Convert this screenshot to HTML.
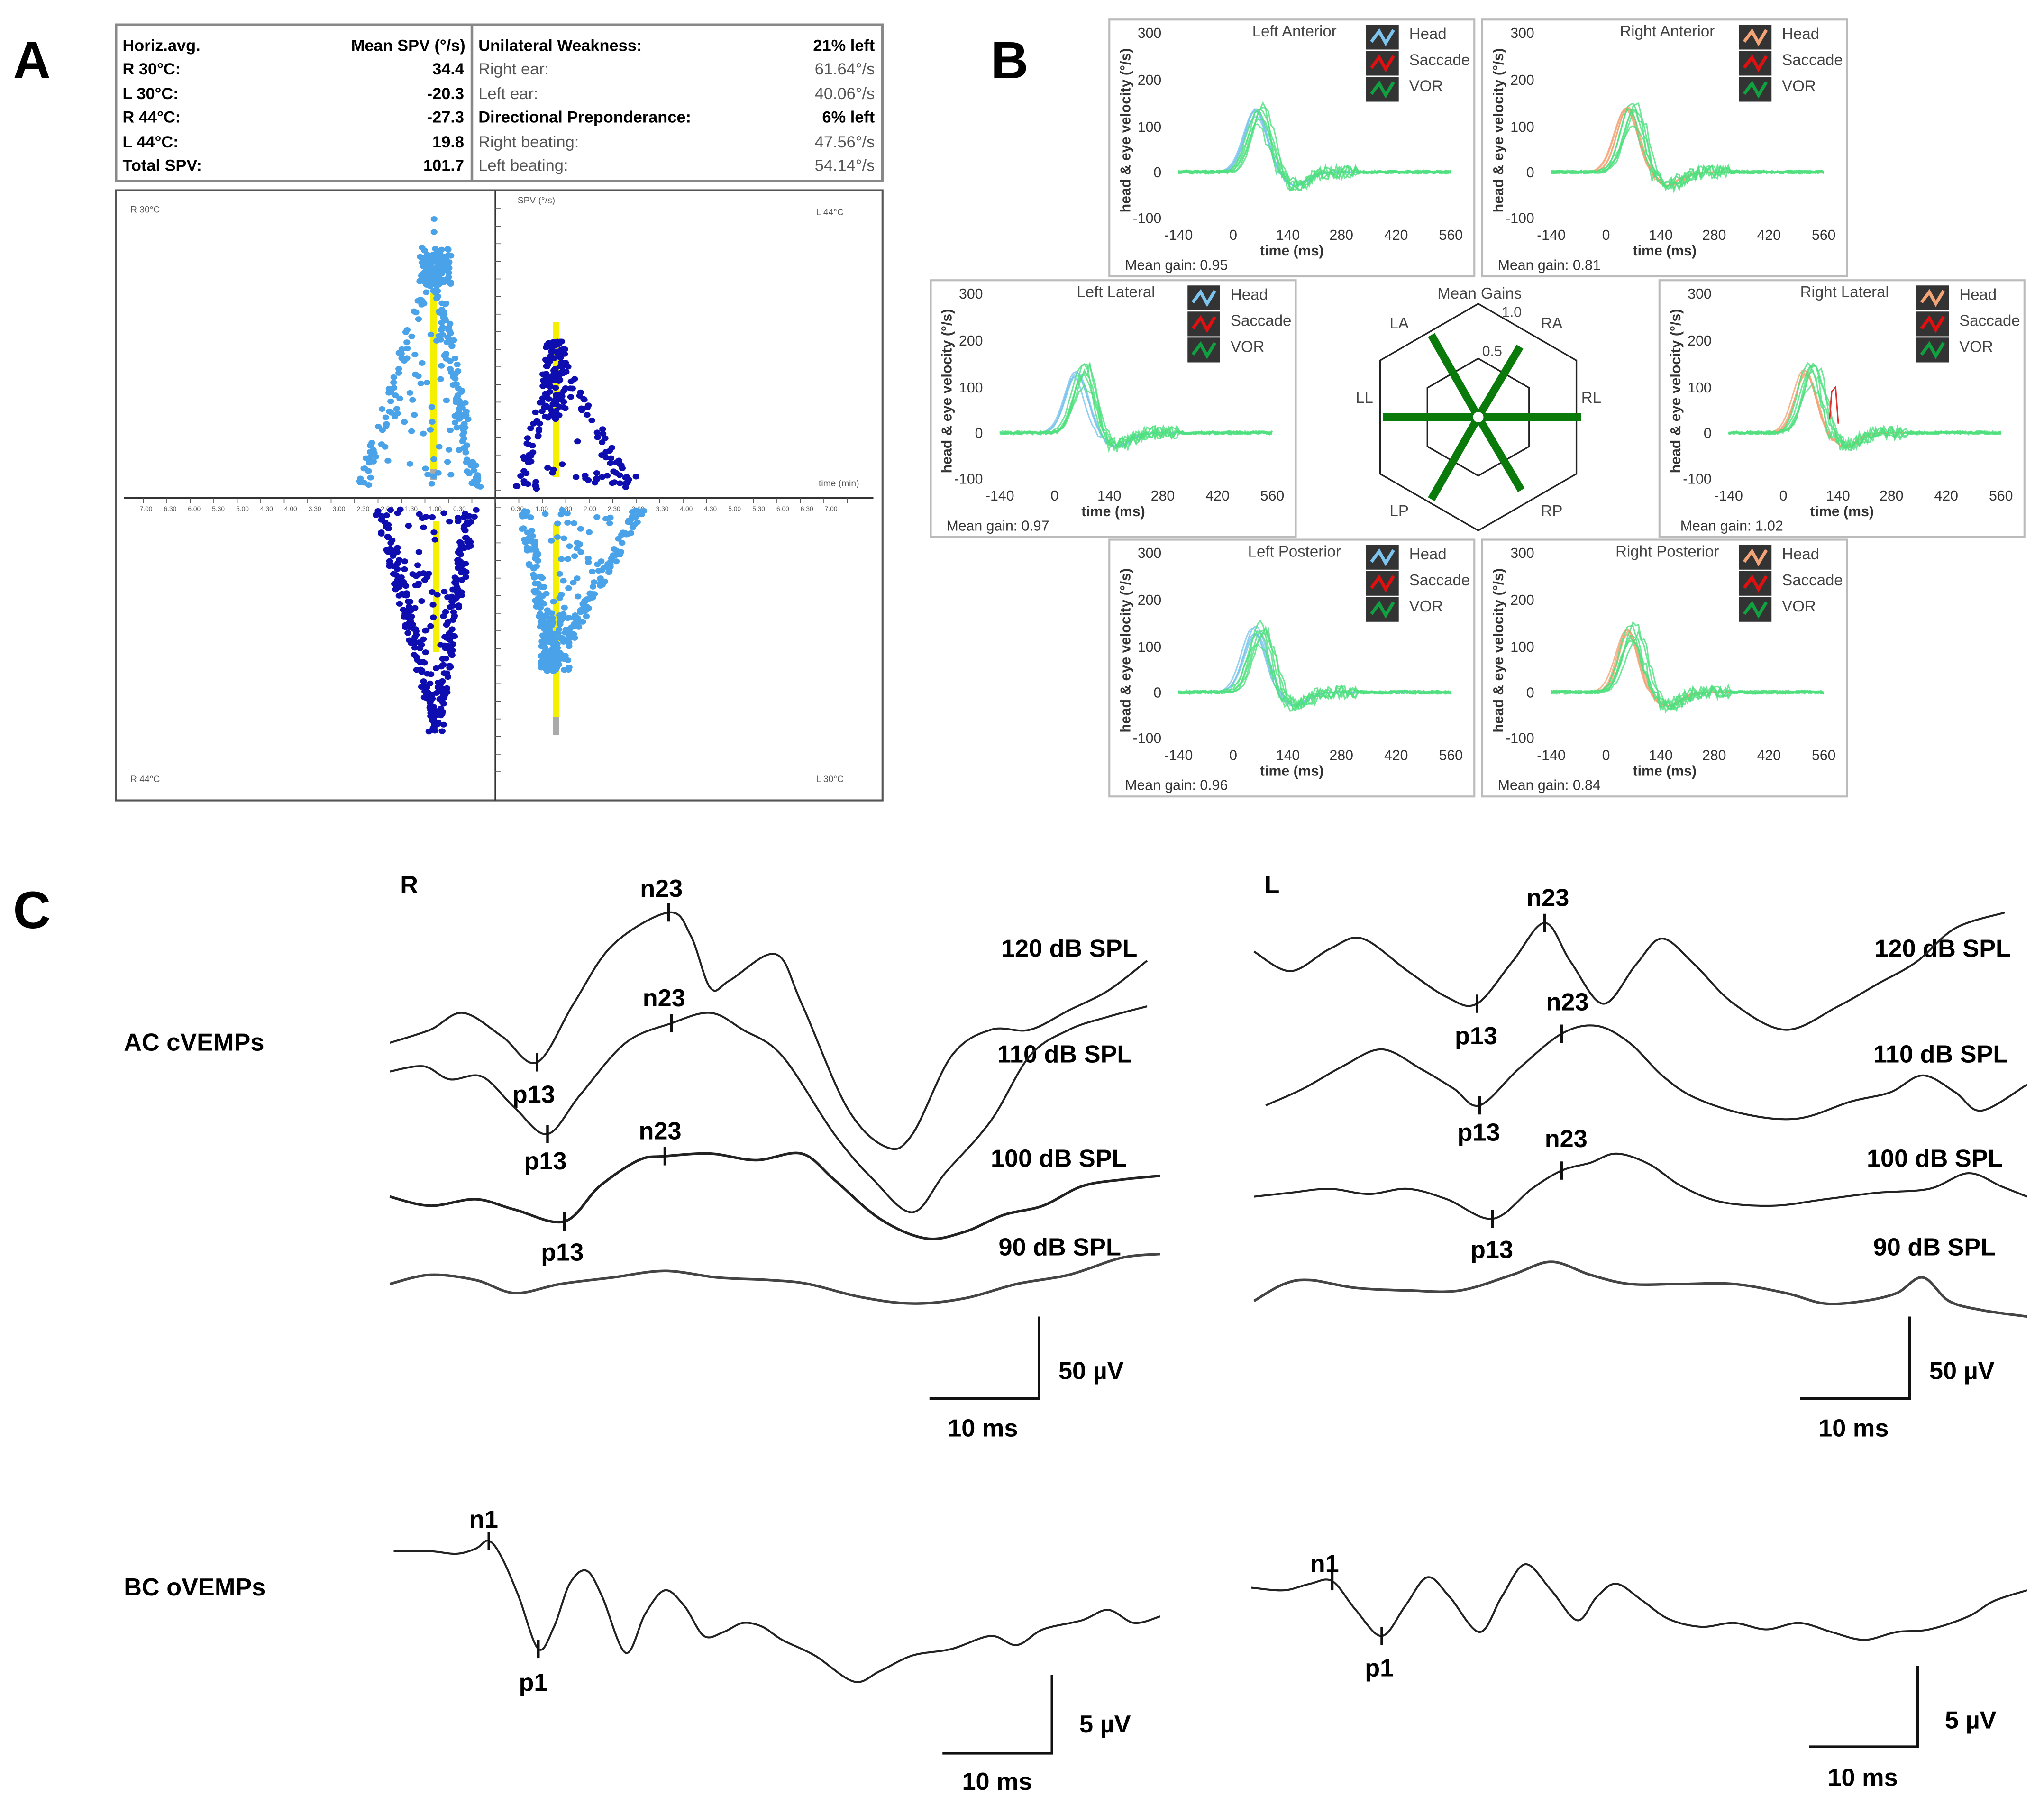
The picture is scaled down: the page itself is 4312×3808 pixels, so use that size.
<!DOCTYPE html>
<html><head><meta charset="utf-8"><style>
html,body{margin:0;padding:0;background:#fff}
svg{display:block}
text{font-family:"Liberation Sans",sans-serif}
.b{font-weight:bold}
.ax{font-size:11px;fill:#333}
.sm{font-size:12px;fill:#444}
.big{font-size:40px;font-weight:bold}
.cl{font-size:19px;font-weight:bold}
.tb{font-size:12.5px}
</style></head><body>
<svg id="s" width="4312" height="3808" viewBox="0 0 1568 1384.7" preserveAspectRatio="none" xmlns="http://www.w3.org/2000/svg">
<rect width="1568" height="1385" fill="#fff"/>
<text x="10" y="60" class="big">A</text>
<text x="760" y="60" class="big">B</text>
<text x="10" y="712" class="big">C</text>

<rect x="89" y="19" width="588" height="120" fill="#fff" stroke="#888" stroke-width="2"/>
<line x1="362" y1="19" x2="362" y2="139" stroke="#888" stroke-width="2"/>
<g class="tb">
<text x="94" y="39" class="b">Horiz.avg.</text><text x="357" y="39" text-anchor="end" class="b">Mean SPV (°/s)</text>
<text x="94" y="57" class="b">R 30°C:</text><text x="356" y="57" text-anchor="end" class="b">34.4</text>
<text x="94" y="76" class="b">L 30°C:</text><text x="356" y="76" text-anchor="end" class="b">-20.3</text>
<text x="94" y="94" class="b">R 44°C:</text><text x="356" y="94" text-anchor="end" class="b">-27.3</text>
<text x="94" y="113" class="b">L 44°C:</text><text x="356" y="113" text-anchor="end" class="b">19.8</text>
<text x="94" y="131" class="b">Total SPV:</text><text x="356" y="131" text-anchor="end" class="b">101.7</text>
<text x="367" y="39" class="b">Unilateral Weakness:</text><text x="671" y="39" text-anchor="end" class="b">21% left</text>
<text x="367" y="57" fill="#555">Right ear:</text><text x="671" y="57" text-anchor="end" fill="#555">61.64°/s</text>
<text x="367" y="76" fill="#555">Left ear:</text><text x="671" y="76" text-anchor="end" fill="#555">40.06°/s</text>
<text x="367" y="94" class="b">Directional Preponderance:</text><text x="671" y="94" text-anchor="end" class="b">6% left</text>
<text x="367" y="113" fill="#555">Right beating:</text><text x="671" y="113" text-anchor="end" fill="#555">47.56°/s</text>
<text x="367" y="131" fill="#555">Left beating:</text><text x="671" y="131" text-anchor="end" fill="#555">54.14°/s</text>
</g>
<rect x="89" y="146" width="588" height="468" fill="#fff" stroke="#555" stroke-width="1.5"/>
<line x1="380" y1="146" x2="380" y2="614" stroke="#333" stroke-width="1.2"/>
<line x1="95" y1="382" x2="670" y2="382" stroke="#333" stroke-width="1.2"/>
<g font-size="7" fill="#555">
<text x="100" y="163">R 30°C</text><text x="626" y="165">L 44°C</text>
<text x="100" y="600">R 44°C</text><text x="626" y="600">L 30°C</text>
<text x="397" y="156">SPV (°/s)</text><text x="628" y="373">time (min)</text>
</g>
<g id="ticks"></g>
<g id="scat"></g>

<g id="boxes"></g>
<g transform="translate(851,15)"><text x="142" y="13" text-anchor="middle" class="sm">Left Anterior</text><text x="40" y="14" text-anchor="end" class="ax">300</text><text x="40" y="50" text-anchor="end" class="ax">200</text><text x="40" y="86" text-anchor="end" class="ax">100</text><text x="40" y="121" text-anchor="end" class="ax">0</text><text x="40" y="156" text-anchor="end" class="ax">-100</text><g class="ax" text-anchor="middle"><text x="53" y="169">-140</text><text x="95" y="169">0</text><text x="137" y="169">140</text><text x="178" y="169">280</text><text x="220" y="169">420</text><text x="262" y="169">560</text></g><text x="140" y="181" text-anchor="middle" class="ax b">time (ms)</text><text x="12" y="192" class="ax">Mean gain: 0.95</text><text transform="translate(16,85) rotate(-90)" text-anchor="middle" class="ax b" font-size="10.5">head &amp; eye velocity (°/s)</text><text x="230" y="15" class="sm">Head</text><text x="230" y="35" class="sm">Saccade</text><text x="230" y="55" class="sm">VOR</text></g>
<g transform="translate(1137,15)"><text x="142" y="13" text-anchor="middle" class="sm">Right Anterior</text><text x="40" y="14" text-anchor="end" class="ax">300</text><text x="40" y="50" text-anchor="end" class="ax">200</text><text x="40" y="86" text-anchor="end" class="ax">100</text><text x="40" y="121" text-anchor="end" class="ax">0</text><text x="40" y="156" text-anchor="end" class="ax">-100</text><g class="ax" text-anchor="middle"><text x="53" y="169">-140</text><text x="95" y="169">0</text><text x="137" y="169">140</text><text x="178" y="169">280</text><text x="220" y="169">420</text><text x="262" y="169">560</text></g><text x="140" y="181" text-anchor="middle" class="ax b">time (ms)</text><text x="12" y="192" class="ax">Mean gain: 0.81</text><text transform="translate(16,85) rotate(-90)" text-anchor="middle" class="ax b" font-size="10.5">head &amp; eye velocity (°/s)</text><text x="230" y="15" class="sm">Head</text><text x="230" y="35" class="sm">Saccade</text><text x="230" y="55" class="sm">VOR</text></g>
<g transform="translate(714,215)"><text x="142" y="13" text-anchor="middle" class="sm">Left Lateral</text><text x="40" y="14" text-anchor="end" class="ax">300</text><text x="40" y="50" text-anchor="end" class="ax">200</text><text x="40" y="86" text-anchor="end" class="ax">100</text><text x="40" y="121" text-anchor="end" class="ax">0</text><text x="40" y="156" text-anchor="end" class="ax">-100</text><g class="ax" text-anchor="middle"><text x="53" y="169">-140</text><text x="95" y="169">0</text><text x="137" y="169">140</text><text x="178" y="169">280</text><text x="220" y="169">420</text><text x="262" y="169">560</text></g><text x="140" y="181" text-anchor="middle" class="ax b">time (ms)</text><text x="12" y="192" class="ax">Mean gain: 0.97</text><text transform="translate(16,85) rotate(-90)" text-anchor="middle" class="ax b" font-size="10.5">head &amp; eye velocity (°/s)</text><text x="230" y="15" class="sm">Head</text><text x="230" y="35" class="sm">Saccade</text><text x="230" y="55" class="sm">VOR</text></g>
<g transform="translate(1273,215)"><text x="142" y="13" text-anchor="middle" class="sm">Right Lateral</text><text x="40" y="14" text-anchor="end" class="ax">300</text><text x="40" y="50" text-anchor="end" class="ax">200</text><text x="40" y="86" text-anchor="end" class="ax">100</text><text x="40" y="121" text-anchor="end" class="ax">0</text><text x="40" y="156" text-anchor="end" class="ax">-100</text><g class="ax" text-anchor="middle"><text x="53" y="169">-140</text><text x="95" y="169">0</text><text x="137" y="169">140</text><text x="178" y="169">280</text><text x="220" y="169">420</text><text x="262" y="169">560</text></g><text x="140" y="181" text-anchor="middle" class="ax b">time (ms)</text><text x="16" y="192" class="ax">Mean gain: 1.02</text><text transform="translate(16,85) rotate(-90)" text-anchor="middle" class="ax b" font-size="10.5">head &amp; eye velocity (°/s)</text><text x="230" y="15" class="sm">Head</text><text x="230" y="35" class="sm">Saccade</text><text x="230" y="55" class="sm">VOR</text></g>
<g transform="translate(851,414)"><text x="142" y="13" text-anchor="middle" class="sm">Left Posterior</text><text x="40" y="14" text-anchor="end" class="ax">300</text><text x="40" y="50" text-anchor="end" class="ax">200</text><text x="40" y="86" text-anchor="end" class="ax">100</text><text x="40" y="121" text-anchor="end" class="ax">0</text><text x="40" y="156" text-anchor="end" class="ax">-100</text><g class="ax" text-anchor="middle"><text x="53" y="169">-140</text><text x="95" y="169">0</text><text x="137" y="169">140</text><text x="178" y="169">280</text><text x="220" y="169">420</text><text x="262" y="169">560</text></g><text x="140" y="181" text-anchor="middle" class="ax b">time (ms)</text><text x="12" y="192" class="ax">Mean gain: 0.96</text><text transform="translate(16,85) rotate(-90)" text-anchor="middle" class="ax b" font-size="10.5">head &amp; eye velocity (°/s)</text><text x="230" y="15" class="sm">Head</text><text x="230" y="35" class="sm">Saccade</text><text x="230" y="55" class="sm">VOR</text></g>
<g transform="translate(1137,414)"><text x="142" y="13" text-anchor="middle" class="sm">Right Posterior</text><text x="40" y="14" text-anchor="end" class="ax">300</text><text x="40" y="50" text-anchor="end" class="ax">200</text><text x="40" y="86" text-anchor="end" class="ax">100</text><text x="40" y="121" text-anchor="end" class="ax">0</text><text x="40" y="156" text-anchor="end" class="ax">-100</text><g class="ax" text-anchor="middle"><text x="53" y="169">-140</text><text x="95" y="169">0</text><text x="137" y="169">140</text><text x="178" y="169">280</text><text x="220" y="169">420</text><text x="262" y="169">560</text></g><text x="140" y="181" text-anchor="middle" class="ax b">time (ms)</text><text x="12" y="192" class="ax">Mean gain: 0.84</text><text transform="translate(16,85) rotate(-90)" text-anchor="middle" class="ax b" font-size="10.5">head &amp; eye velocity (°/s)</text><text x="230" y="15" class="sm">Head</text><text x="230" y="35" class="sm">Saccade</text><text x="230" y="55" class="sm">VOR</text></g>

<g id="hex"></g>
<g class="sm">
<text x="1135" y="229" text-anchor="middle">Mean Gains</text>
<text x="1066" y="252">LA</text><text x="1182" y="252">RA</text>
<text x="1040" y="309">LL</text><text x="1213" y="309">RL</text>
<text x="1066" y="396">LP</text><text x="1182" y="396">RP</text>
<text x="1152" y="243" font-size="11">1.0</text><text x="1137" y="273" font-size="11">0.5</text>
</g>

<text x="307" y="685" class="cl" font-size="22">R</text>
<text x="970" y="685" class="cl" font-size="22">L</text>
<text x="95" y="806" class="cl" font-size="22">AC cVEMPs</text>
<text x="95" y="1224" class="cl" font-size="22">BC oVEMPs</text>
<g class="cl">
<text x="768" y="734">120 dB SPL</text><text x="765" y="815">110 dB SPL</text>
<text x="760" y="895">100 dB SPL</text><text x="766" y="963">90 dB SPL</text>
<text x="1438" y="734">120 dB SPL</text><text x="1437" y="815">110 dB SPL</text>
<text x="1432" y="895">100 dB SPL</text><text x="1437" y="963">90 dB SPL</text>
<text x="491" y="688">n23</text><text x="493" y="772">n23</text><text x="490" y="874">n23</text>
<text x="393" y="846">p13</text><text x="402" y="897">p13</text><text x="415" y="967">p13</text>
<text x="1171" y="695">n23</text><text x="1186" y="775">n23</text><text x="1185" y="880">n23</text>
<text x="1116" y="801">p13</text><text x="1118" y="875">p13</text><text x="1128" y="965">p13</text>
<text x="812" y="1058">50 µV</text><text x="727" y="1102">10 ms</text>
<text x="1480" y="1058">50 µV</text><text x="1395" y="1102">10 ms</text>
<text x="360" y="1172">n1</text><text x="398" y="1297">p1</text>
<text x="1005" y="1206">n1</text><text x="1047" y="1286">p1</text>
<text x="828" y="1329">5 µV</text><text x="738" y="1373">10 ms</text>
<text x="1492" y="1326">5 µV</text><text x="1402" y="1370">10 ms</text>
</g>
<g stroke="#111" stroke-width="2" fill="none">
<path d="M797 1010V1073H713"/><path d="M1465 1010V1073H1381"/>
<path d="M807 1285V1345H723"/><path d="M1471 1278V1340H1388"/>
</g>
<g id="ctr" fill="none" stroke="#222" stroke-width="1.5"></g>
</svg>
<script>
(function(){
var NS="http://www.w3.org/2000/svg";
function el(p,n,a){var e=document.createElementNS(NS,n);for(var k in a)e.setAttribute(k,a[k]);p.appendChild(e);return e;}
function $(i){return document.getElementById(i);}
var seed=7;function rnd(){seed=(seed*16807)%2147483647;return seed/2147483647;}
function cr(p){var d="M"+p[0][0]+" "+p[0][1];for(var i=0;i<p.length-1;i++){var p0=p[i-1]||p[i],p1=p[i],p2=p[i+1],p3=p[i+2]||p2;
d+=" C"+(p1[0]+(p2[0]-p0[0])/6).toFixed(1)+" "+(p1[1]+(p2[1]-p0[1])/6).toFixed(1)+" "+(p2[0]-(p3[0]-p1[0])/6).toFixed(1)+" "+(p2[1]-(p3[1]-p1[1])/6).toFixed(1)+" "+p2[0]+" "+p2[1];}return d;}
var tk=$("ticks");
for(var y=160;y<=605;y+=13.5){el(tk,"line",{x1:380,y1:y,x2:384,y2:y,stroke:"#555","stroke-width":0.6});}
for(var x=110;x<=660;x+=18){el(tk,"line",{x1:x,y1:382,x2:x,y2:386,stroke:"#555","stroke-width":0.6});}
var tt=["7.00","6.30","6.00","5.30","5.00","4.30","4.00","3.30","3.00","2.30","2.00","1.30","1.00","0.30"];
for(var i=0;i<14;i++){var t=el(tk,"text",{x:112+i*18.5,y:392,"font-size":5,fill:"#555","text-anchor":"middle"});t.textContent=tt[i];}
for(var i=0;i<14;i++){var t=el(tk,"text",{x:397+i*18.5,y:392,"font-size":5,fill:"#555","text-anchor":"middle"});t.textContent=tt[13-i];}
var sc=$("scat");var LB="#4aa3e8",DB="#0d0db0";
function dot(x,y,c){el(sc,"ellipse",{cx:x.toFixed(1),cy:y.toFixed(1),rx:2.6,ry:2.2,fill:c});}
function blob(cx,ytop,ybase,lw,rw,col,n){
 for(var i=0;i<n;i++){var f=rnd();var yy=ytop+(ybase-ytop)*f;var side=rnd();var xx;
  var l=cx-lw*f-3,r=cx+rw*f+3;
  if(side<0.35)xx=l+rnd()*9;else if(side<0.7)xx=r-rnd()*9;else xx=l+rnd()*(r-l);
  if(f<0.15)xx=cx-6+rnd()*12;
  dot(xx,yy,col);}}
el(sc,"rect",{x:330,y:225,width:5,height:138,fill:"#f4f000"});
el(sc,"rect",{x:330,y:360,width:5,height:8,fill:"#aaa"});
el(sc,"rect",{x:424,y:247,width:5,height:119,fill:"#f4f000"});
el(sc,"rect",{x:332,y:400,width:5,height:100,fill:"#f4f000"});
el(sc,"rect",{x:424,y:402,width:5,height:150,fill:"#f4f000"});
el(sc,"rect",{x:424,y:550,width:5,height:14,fill:"#aaa"});
// upper-left: dense cap near top
for(var i=0;i<90;i++)dot(322+rnd()*24,190+rnd()*28,LB);
dot(333,168,LB);dot(333,178,LB);
blob(333,195,378,58,34,LB,260);
// upper-right: narrow dense core then spread right
for(var i=0;i<70;i++)dot(418+rnd()*16,262+rnd()*60,DB);
blob(425,262,375,28,58,DB,130);
for(var i=0;i<14;i++)dot(440+rnd()*50,362+rnd()*10,DB);
blob(335,562,390,45,28,DB,330);
for(var i=0;i<60;i++)dot(415+rnd()*22,470+rnd()*45,LB);
blob(424,515,390,24,68,LB,300);
var bx=$("boxes");
var boxes=[[851,15,"b",0],[1137,15,"o",1],[714,215,"b",2],[1273,215,"o",3],[851,414,"b",4],[1137,414,"o",5]];
boxes.forEach(function(b){
 var g=el(bx,"g",{transform:"translate("+b[0]+","+b[1]+")"});
 el(g,"rect",{x:0,y:0,width:280,height:197,fill:"#fff",stroke:"#bbb","stroke-width":1.5});
 var hc=b[2]=="b"?"#7cc4ee":"#f2a477";
 [[hc,4],["#e01010",24],["#10a040",44]].forEach(function(l){
  el(g,"rect",{x:197,y:l[1],width:25,height:19,fill:"#333"});
  el(g,"path",{d:"M201 "+(l[1]+13)+"l6-8 5 9 6-10",fill:"none",stroke:l[0],"stroke-width":2.5});});
 function X(t){return 53+(t+140)/700*209;}function Y(v){return 117-v*0.35;}
 var tr=el(g,"g",{fill:"none","stroke-width":1.1});
 for(var k=0;k<10;k++){
  var isHead=k<4;var col=isHead?hc:"#4fe07e";
  var t0=isHead?50+rnd()*10:60+rnd()*25,A=isHead?120+rnd()*25:100+rnd()*60;var w=35+rnd()*8;
  var pts=[];for(var t=-140;t<=560;t+=7){var v=A*Math.exp(-Math.pow((t-t0)/w,2))-30*Math.exp(-Math.pow((t-150-rnd()*20)/45,2));
   if(!isHead)v+=(rnd()-0.5)*(t>80&&t<320?30:8);pts.push([X(t).toFixed(1),Y(v).toFixed(1)]);}
  el(tr,"path",{d:"M"+pts.join(" L"),stroke:col,opacity:isHead?0.8:0.8});}
 if(b[3]==3){el(tr,"path",{d:"M"+X(120)+" "+Y(30)+" L"+X(125)+" "+Y(90)+" L"+X(135)+" "+Y(100)+" L"+X(142)+" "+Y(20),stroke:"#e03030"});}
});
var hx=$("hex");var cx=1134,cy=320;
function hexp(r){var s="";for(var i=0;i<6;i++){var a=(-90+60*i)*Math.PI/180;s+=(i?"L":"M")+(cx+r*Math.cos(a)).toFixed(1)+" "+(cy+r*Math.sin(a)).toFixed(1);}return s+"Z";}
el(hx,"path",{d:hexp(87),fill:"none",stroke:"#222","stroke-width":1.2});
el(hx,"path",{d:hexp(45),fill:"none",stroke:"#222","stroke-width":1.2});
[[1098,257],[1166,266],[1061,320],[1213,320],[1098,383],[1167,376]].forEach(function(p){
 el(hx,"line",{x1:cx,y1:cy,x2:p[0],y2:p[1],stroke:"#0a7a0a","stroke-width":6});});
el(hx,"circle",{cx:cx,cy:cy,r:4,fill:"#fff"});
var ct=$("ctr");
var T=[
[[299,800],[330,790],[355,777],[385,795],[412,815],[440,770],[470,725],[513,700],[530,718],[545,758],[560,752],[595,732],[615,770],[650,850],[680,880],[700,870],[730,810],[760,790],[790,790],[820,775],[850,760],[880,737]],
[[299,822],[325,818],[345,828],[370,826],[395,850],[420,870],[445,840],[480,800],[515,785],[545,777],[570,790],[600,810],[640,870],[670,905],[700,930],[725,900],[760,860],[790,810],[820,790],[850,780],[880,772]],
[[299,918],[330,925],[365,920],[395,928],[433,937],[460,910],[490,890],[510,887],[545,885],[580,890],[615,885],[640,905],[675,935],[710,950],[740,945],[770,932],[800,925],[830,910],[860,905],[890,902]],
[[299,985],[330,978],[365,982],[395,992],[430,985],[470,980],[510,975],[550,980],[590,982],[620,985],[660,995],[700,1000],[740,996],[780,985],[820,978],[860,965],[890,962]],
[[962,730],[990,745],[1020,728],[1045,720],[1080,745],[1110,765],[1133,770],[1160,738],[1185,708],[1205,738],[1230,770],[1255,740],[1275,720],[1300,740],[1330,770],[1370,790],[1410,772],[1440,755],[1470,738],[1500,712],[1538,700]],
[[971,848],[1000,835],[1030,818],[1060,805],[1090,820],[1115,835],[1135,848],[1165,820],[1198,793],[1225,787],[1250,800],[1275,825],[1300,842],[1340,855],[1380,858],[1420,845],[1450,838],[1475,825],[1500,838],[1520,852],[1555,832]],
[[962,918],[990,915],[1020,912],[1050,916],[1080,912],[1110,920],[1145,935],[1175,912],[1198,898],[1220,892],[1240,885],[1265,893],[1290,910],[1320,922],[1360,925],[1400,920],[1440,915],[1480,912],[1510,900],[1535,910],[1555,918]],
[[962,998],[985,985],[1005,982],[1040,988],[1080,990],[1120,990],[1160,978],[1190,968],[1220,978],[1250,985],[1290,985],[1330,985],[1370,992],[1400,1000],[1430,998],[1455,992],[1475,980],[1495,998],[1520,1005],[1555,1010]],
[[302,1190],[330,1190],[350,1192],[365,1188],[375,1182],[385,1195],[398,1225],[413,1265],[425,1248],[437,1215],[450,1205],[462,1225],[480,1268],[495,1238],[510,1220],[525,1232],[540,1255],[555,1252],[570,1245],[585,1248],[600,1258],[625,1270],[655,1290],[675,1282],[700,1270],[730,1265],[760,1255],[780,1262],[800,1250],[830,1243],[850,1235],[870,1245],[890,1240]],
[[960,1218],[985,1220],[1005,1215],[1022,1213],[1040,1235],[1060,1255],[1078,1232],[1095,1210],[1112,1225],[1135,1252],[1152,1225],[1170,1200],[1190,1220],[1210,1243],[1225,1225],[1240,1215],[1260,1228],[1280,1242],[1305,1248],[1330,1245],[1355,1250],[1380,1245],[1405,1252],[1430,1258],[1455,1252],[1480,1250],[1510,1240],[1530,1228],[1555,1220]]
];
T.forEach(function(p,i){el(ct,"path",{d:cr(p),stroke:i==3||i==7?"#444":"#222","stroke-width":i==3||i==7||i==2?2:1.5});});
[[412,815],[420,870],[433,937],[513,700],[515,785],[510,887],[1133,770],[1135,848],[1145,935],[1185,708],[1198,793],[1198,898],[375,1182],[413,1265],[1022,1213],[1060,1255]].forEach(function(p){
 el(ct,"line",{x1:p[0],y1:p[1]-7,x2:p[0],y2:p[1]+7,stroke:"#111","stroke-width":2});});
})();
</script>
</body></html>
